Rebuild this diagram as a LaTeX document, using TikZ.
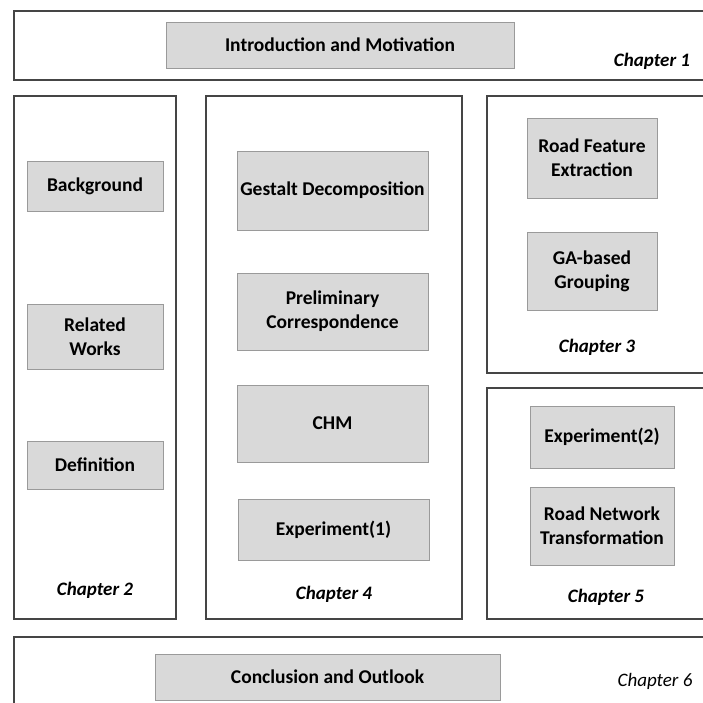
\documentclass[tikz,border=0pt]{standalone}
\usepackage{fontspec}
\setmainfont{Carlito}
\definecolor{boxfill}{HTML}{D9D9D9}
\definecolor{boxline}{HTML}{9A9A9A}
\definecolor{frameline}{HTML}{454545}
\tikzset{
  frame/.style={draw=frameline, line width=1.6pt},
  part/.style={draw=boxline, fill=boxfill, line width=0.8pt, align=center,
    font=\fontsize{19.5}{24}\selectfont\bfseries, inner sep=0pt},
  chap/.style={font=\fontsize{19}{22}\selectfont\bfseries\itshape}
}
\begin{document}
\begin{tikzpicture}[x=1pt, y=-1pt]
  \useasboundingbox (0,0) rectangle (703,702);
  \clip (0,0) rectangle (703,702);
  % chapter frames
  \draw[frame] (14,11) rectangle (720,80);
  \draw[frame] (14,96) rectangle (176,619);
  \draw[frame] (206,96) rectangle (462,619);
  \draw[frame] (487,96) rectangle (720,373);
  \draw[frame] (487,388) rectangle (720,619);
  \draw[frame] (14,637) rectangle (720,720);
  % chapter 1
  \node[part, minimum width=348pt, minimum height=46pt] (intro) at (340,45) {Introduction and Motivation};
  \node[chap] (ch1) at (652,61) {Chapter 1};
  % chapter 2
  \node[part, minimum width=136pt, minimum height=50pt] (bg) at (95,186) {Background};
  \node[part, minimum width=136pt, minimum height=65pt] (rw) at (95,336.5) {Related\\Works};
  \node[part, minimum width=136pt, minimum height=48pt] (def) at (95,465) {Definition};
  \node[chap] (ch2) at (95,590) {Chapter 2};
  % chapter 4
  \node[part, minimum width=191pt, minimum height=79pt] (gestalt) at (332.5,190.5) {Gestalt Decomposition};
  \node[part, minimum width=191pt, minimum height=77pt] (prelim) at (332.5,311.5) {Preliminary\\Correspondence};
  \node[part, minimum width=191pt, minimum height=77pt] (chm) at (332.5,423.5) {CHM};
  \node[part, minimum width=191pt, minimum height=61pt] (exp1) at (333.5,529.5) {Experiment(1)};
  \node[chap] (ch4) at (334,594) {Chapter 4};
  % chapter 3
  \node[part, minimum width=130pt, minimum height=80pt] (feat) at (592,158) {Road Feature\\Extraction};
  \node[part, minimum width=130pt, minimum height=78pt] (ga) at (592,271) {GA-based\\Grouping};
  \node[chap] (ch3) at (597,347) {Chapter 3};
  % chapter 5
  \node[part, minimum width=144pt, minimum height=62pt] (exp2) at (602,437) {Experiment(2)};
  \node[part, minimum width=144pt, minimum height=78pt] (trans) at (602,526) {Road Network\\Transformation};
  \node[chap] (ch5) at (606,597) {Chapter 5};
  % chapter 6
  \node[part, minimum width=345pt, minimum height=46pt] (concl) at (327.5,677) {Conclusion and Outlook};
  \node[chap, font=\fontsize{19}{22}\selectfont\itshape] (ch6) at (655,681) {Chapter 6};
\end{tikzpicture}
\end{document}
